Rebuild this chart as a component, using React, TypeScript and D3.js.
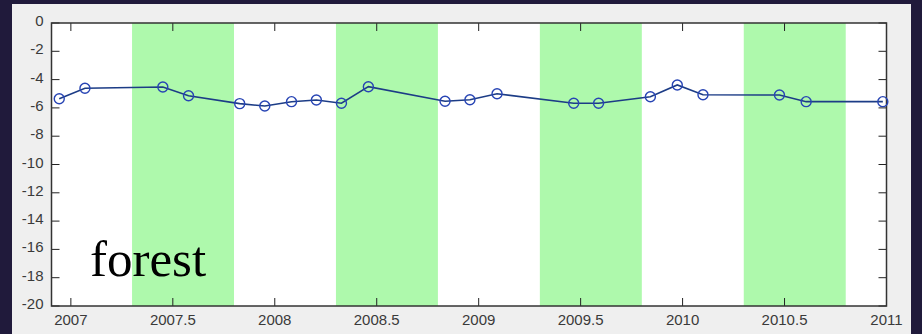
import * as React from "react"
import * as d3 from "d3"

// sample times (decimal year) and values
const years = [
  2006.943, 2007.069, 2007.451, 2007.577, 2007.828, 2007.951, 2008.082, 2008.204,
  2008.327, 2008.459, 2008.835, 2008.957, 2009.09, 2009.466, 2009.588, 2009.842,
  2009.974, 2010.1, 2010.475, 2010.606, 2010.982,
]
const values = [
  -5.35, -4.61, -4.52, -5.14, -5.7, -5.87, -5.56, -5.44,
  -5.67, -4.5, -5.53, -5.42, -5.0, -5.67, -5.67, -5.21,
  -4.38, -5.07, -5.09, -5.56, -5.56,
]
// shaded periods
const bandStarts = [2007.3, 2008.3, 2009.3, 2010.3]
const bandEnds = [2007.8, 2008.8, 2009.8, 2010.8]
const xTicks = [2007, 2007.5, 2008, 2008.5, 2009, 2009.5, 2010, 2010.5, 2011]
const yTicks = [0, -2, -4, -6, -8, -10, -12, -14, -16, -18, -20]
const label = "forest"

const W = 922
const H = 334
const left = 51.5
const right = 886.5
const top = 23
const bottom = 306

export default function App() {
  const x = d3.scaleLinear().domain([2006.905, 2011]).range([left, right])
  const y = d3.scaleLinear().domain([-20, 0]).range([bottom, top])
  const line = d3.line<number>()
    .x((_, i) => x(years[i]))
    .y(d => y(d))

  const tickFont = { fontFamily: "'Liberation Sans', Arial, sans-serif", fontSize: 15, fill: "#3a3a3a" }

  return (
    <svg width={W} height={H} style={{ position: "absolute", left: 0, top: 0, display: "block" }}>
      <rect x={0} y={0} width={W} height={H} fill="#201a3b" />
      <rect x={12} y={4} width={899} height={H - 4} fill="#efefef" />
      <rect x={left} y={top} width={right - left} height={bottom - top} fill="#ffffff" />

      {bandStarts.map((s, i) => (
        <rect key={i} x={x(s)} y={top} width={x(bandEnds[i]) - x(s)} height={bottom - top} fill="#aef9ac" />
      ))}

      {/* ticks, inward on all four sides */}
      {xTicks.map(t => (
        <g key={"x" + t}>
          <line x1={x(t)} x2={x(t)} y1={bottom} y2={bottom - 8} stroke="#222" strokeWidth={1} />
          <line x1={x(t)} x2={x(t)} y1={top} y2={top + 8} stroke="#222" strokeWidth={1} />
          <text x={x(t)} y={bottom + 19} textAnchor="middle" style={tickFont}>{t}</text>
        </g>
      ))}
      {yTicks.map(t => (
        <g key={"y" + t}>
          <line x1={left} x2={left + 8} y1={y(t)} y2={y(t)} stroke="#222" strokeWidth={1} />
          <line x1={right} x2={right - 8} y1={y(t)} y2={y(t)} stroke="#222" strokeWidth={1} />
          <text x={43.5} y={y(t) + 3} textAnchor="end" style={tickFont}>{t}</text>
        </g>
      ))}

      <rect x={left} y={top} width={right - left} height={bottom - top} fill="none" stroke="#333" strokeWidth={1.5} />

      <path d={line(values) ?? ""} fill="none" stroke="#1c3c86" strokeWidth={1.6} />
      {values.map((v, i) => (
        <circle key={i} cx={x(years[i])} cy={y(v)} r={5} fill="none" stroke="#2744b4" strokeWidth={1.4} />
      ))}

      <text x={90} y={276} style={{ fontFamily: "'Liberation Serif', 'Times New Roman', serif", fontSize: 51, fill: "#000" }}>
        {label}
      </text>
    </svg>
  )
}
